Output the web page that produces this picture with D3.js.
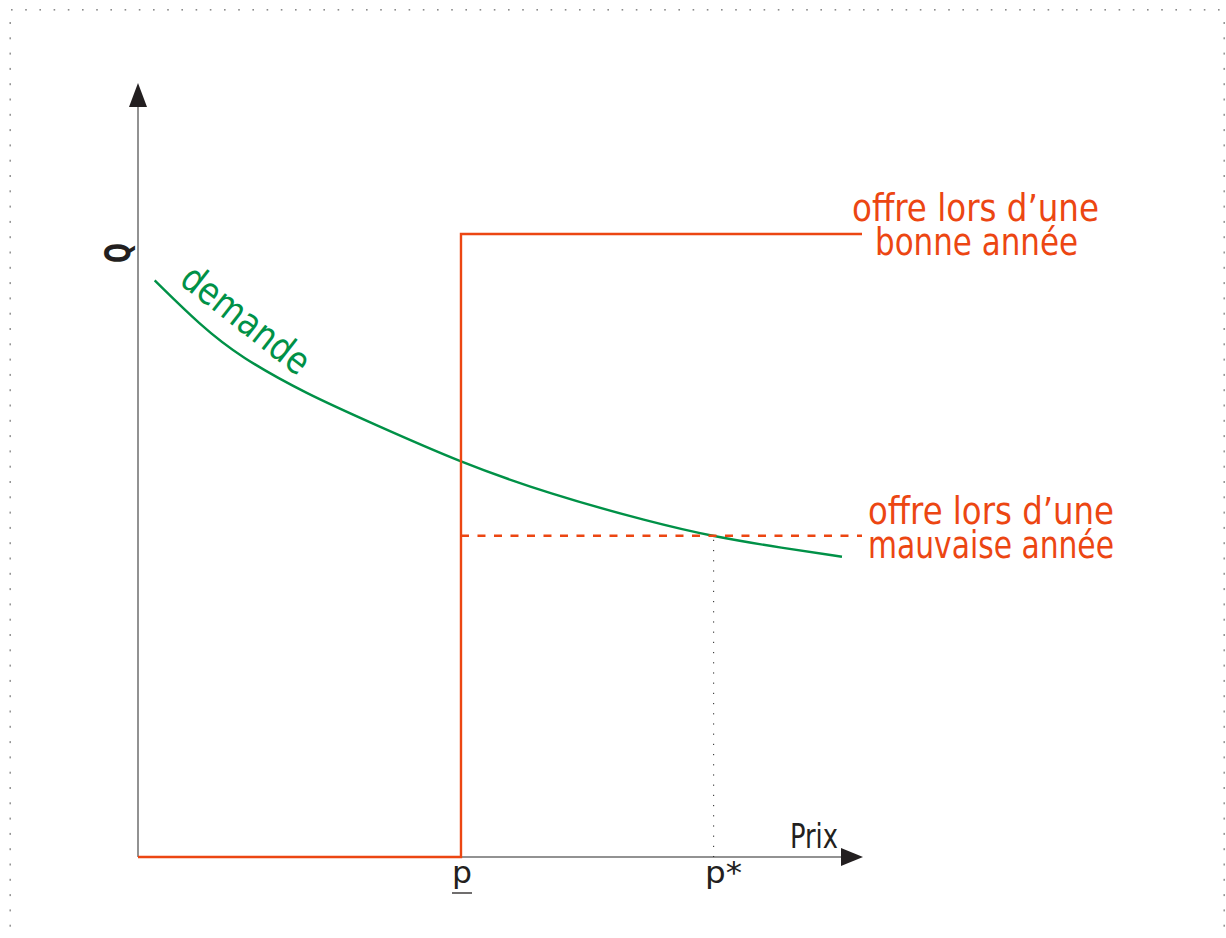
<!DOCTYPE html>
<html><head><meta charset="utf-8">
<script src="https://cdn.jsdelivr.net/npm/d3@7"></script>
<style>html,body{margin:0;padding:0;background:#fff;}svg{display:block;}</style>
</head><body>
<script>
// Data (price on x, quantity on y, arbitrary units 0..100)
const demandPrice = [2.3, 8.6, 14.1, 23.3, 32.4, 44.4, 56.8, 70.6, 79.3, 89.0, 97.1];
const demandQty   = [74.5, 68.7, 64.6, 59.8, 56.0, 51.0, 46.9, 43.3, 41.4, 39.9, 38.8];
const pLow = 44.55;        // p (underlined)
const pStar = 79.4;        // p*
const supplyGood = 80.5;   // offre lors d'une bonne année
const supplyBad = 41.5;    // offre lors d'une mauvaise année
const xMax = 100, yMax = 100;
const labelsGood = ["offre lors d\u2019une", "bonne année"];
const labelsBad = ["offre lors d\u2019une", "mauvaise année"];
const xTickLabels = ["p", "p*"];

const W = 1226, H = 938;
const svg = d3.select("body").append("svg").attr("width", W).attr("height", H);
const x = d3.scaleLinear().domain([0, xMax]).range([138, 863]);
const y = d3.scaleLinear().domain([0, yMax]).range([857, 83]);
const RED = "#ec4612", GREEN = "#009147";
const FONT = "'DejaVu Sans Condensed', 'DejaVu Sans', sans-serif";

// dotted frame
const frame = svg.append("g").attr("fill", "#8a8a8a");
for (let xx = 11; xx <= 1222; xx += 14.2) frame.append("rect").attr("x", xx).attr("y", 9).attr("width", 1.6).attr("height", 1.6);
for (let yy = 22; yy <= 935; yy += 15.3) {
  frame.append("rect").attr("x", 9.5).attr("y", yy).attr("width", 1.4).attr("height", 2);
  frame.append("rect").attr("x", 1223.5).attr("y", yy).attr("width", 1.4).attr("height", 2);
}

// axes
const axisG = svg.append("g");
axisG.append("line").attr("x1", x(0)).attr("y1", y(0)).attr("x2", x(0)).attr("y2", y(yMax) + 20)
  .attr("stroke", "#6e6e6e").attr("stroke-width", 1.5);
axisG.append("line").attr("x1", x(0)).attr("y1", y(0)).attr("x2", x(xMax) - 18).attr("y2", y(0))
  .attr("stroke", "#6e6e6e").attr("stroke-width", 1.5);
axisG.append("path").attr("d", `M${x(0)},${y(yMax)} L${x(0)-9},${y(yMax)+24} L${x(0)+9},${y(yMax)+24} Z`).attr("fill", "#231f20");
axisG.append("path").attr("d", `M${x(xMax)},${y(0)} L${x(xMax)-22},${y(0)-9} L${x(xMax)-22},${y(0)+9} Z`).attr("fill", "#231f20");

// dotted guide at p*
svg.append("line").attr("x1", x(pStar)).attr("x2", x(pStar)).attr("y1", y(supplyBad) + 4).attr("y2", y(0))
  .attr("stroke", "#222").attr("stroke-width", 1).attr("stroke-dasharray", "1.2,9");

// demand curve
const demand = demandPrice.map((p, i) => [p, demandQty[i]]);
svg.append("path").datum(demand)
  .attr("d", d3.line().x(d => x(d[0])).y(d => y(d[1])).curve(d3.curveBasis))
  .attr("fill", "none").attr("stroke", GREEN).attr("stroke-width", 2.4);

// supply good year (step)
svg.append("path")
  .attr("d", d3.line()([[x(0), y(0)], [x(pLow), y(0)], [x(pLow), y(supplyGood)], [x(xMax) - 1, y(supplyGood)]]))
  .attr("fill", "none").attr("stroke", RED).attr("stroke-width", 2.4);

// supply bad year (dashed)
svg.append("line").attr("x1", x(pLow)).attr("x2", x(xMax) - 1).attr("y1", y(supplyBad)).attr("y2", y(supplyBad))
  .attr("stroke", RED).attr("stroke-width", 2.6).attr("stroke-dasharray", "8,8.5");

// text helper
function txt(str, tx, ty, size, len, color) {
  const t = svg.append("text").attr("x", tx).attr("y", ty).attr("font-family", FONT)
    .attr("font-size", size).attr("fill", color).text(str);
  if (len) t.attr("textLength", len).attr("lengthAdjust", "spacingAndGlyphs");
  return t;
}
txt(labelsGood[0], 852, 221, 37, 247, RED);
txt(labelsGood[1], 875, 255, 37, 203, RED);
txt(labelsBad[0], 868, 524, 37, 246, RED);
txt(labelsBad[1], 868, 558, 37, 246, RED);

// axis labels
txt("Prix", 790, 848, 33, 48, "#231f20");
txt(xTickLabels[0], 452, 883, 30, 20, "#231f20");
svg.append("line").attr("x1", 452).attr("x2", 472).attr("y1", 893).attr("y2", 893).attr("stroke", "#231f20").attr("stroke-width", 1.3);
txt(xTickLabels[1], 705, 883, 30, 37, "#231f20");

// Q label rotated
svg.append("text").attr("transform", "translate(130,253) rotate(-90)").attr("text-anchor", "middle")
  .attr("font-family", FONT).attr("font-size", 36).attr("font-weight", "bold").attr("fill", "#231f20")
  .attr("textLength", 20).attr("lengthAdjust", "spacingAndGlyphs").text("Q");

// demande label rotated
svg.append("text").attr("transform", "translate(178,283) rotate(38)")
  .attr("font-family", FONT).attr("font-size", 38).attr("fill", GREEN)
  .attr("textLength", 152).attr("lengthAdjust", "spacingAndGlyphs").text("demande");
</script>
</body></html>
